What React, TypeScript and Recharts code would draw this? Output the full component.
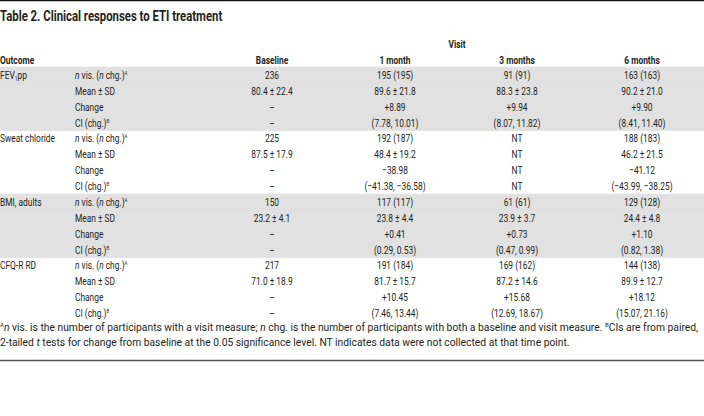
import { Bar, ComposedChart, XAxis, YAxis } from "recharts";

const outcomes = ["FEV1pp", "Sweat chloride", "BMI, adults", "CFQ-R RD"];
const shadedOutcomes = [true, false, true, false];
const measures = ["n vis. (n chg.)", "Mean ± SD", "Change", "CI (chg.)"];
const visitHeaders = ["Baseline", "1 month", "3 months", "6 months"];

const baseline = [
  "236", "80.4 ± 22.4", "–", "–",
  "225", "87.5 ± 17.9", "–", "–",
  "150", "23.2 ± 4.1", "–", "–",
  "217", "71.0 ± 18.9", "–", "–",
];
const month1 = [
  "195 (195)", "89.6 ± 21.8", "+8.89", "(7.78, 10.01)",
  "192 (187)", "48.4 ± 19.2", "−38.98", "(−41.38, −36.58)",
  "117 (117)", "23.8 ± 4.4", "+0.41", "(0.29, 0.53)",
  "191 (184)", "81.7 ± 15.7", "+10.45", "(7.46, 13.44)",
];
const month3 = [
  "91 (91)", "88.3 ± 23.8", "+9.94", "(8.07, 11.82)",
  "NT", "NT", "NT", "NT",
  "61 (61)", "23.9 ± 3.7", "+0.73", "(0.47, 0.99)",
  "169 (162)", "87.2 ± 14.6", "+15.68", "(12.69, 18.67)",
];
const month6 = [
  "163 (163)", "90.2 ± 21.0", "+9.90", "(8.41, 11.40)",
  "188 (183)", "46.2 ± 21.5", "−41.12", "(−43.99, −38.25)",
  "129 (128)", "24.4 ± 4.8", "+1.10", "(0.82, 1.38)",
  "144 (138)", "89.9 ± 12.7", "+18.12", "(15.07, 21.16)",
];

const FONT = "Roboto, sans-serif";
const FOOT_FONT = "Roboto, 'Open Sans', sans-serif";
const INK = "#231f20";
const SHADE = "#e1e1e1";
const SX = 0.73; // squeeze Roboto toward the condensed face of the original
const FS = 11.5;

// column anchor positions
const COL_OUTCOME = 0;
const COL_MEASURE = 75;
const COL_VALUES = [272, 395, 517, 642];

const rows = outcomes.flatMap((o, g) =>
  measures.map((m, k) => {
    const i = g * 4 + k;
    return {
      id: `r${i}`,
      group: g,
      step: k,
      outcome: k === 0 ? o : "",
      measure: m,
      values: [baseline[i], month1[i], month3[i], month6[i]],
      shade: shadedOutcomes[g] ? 1 : 0,
    };
  })
);

function Cell({ x, y, anchor = "start", bold = false, size = FS, sx = SX, children }: any) {
  return (
    <g transform={`translate(${x},${y}) scale(${sx},1)`}>
      <text
        x={0}
        y={0}
        dy="0.35em"
        textAnchor={anchor}
        fontFamily={FONT}
        fontSize={size}
        fontWeight={bold ? 700 : 400}
        fill={INK}
      >
        {children}
      </text>
    </g>
  );
}

function outcomeLabel(o: string) {
  if (o === "FEV1pp") {
    return (
      <>
        FEV
        <tspan dy={2} fontSize={7}>1</tspan>
        <tspan dy={-2}>pp</tspan>
      </>
    );
  }
  return o;
}

function measureLabel(step: number, m: string) {
  if (step === 0) {
    return (
      <>
        <tspan fontStyle="italic">n</tspan> vis. (<tspan fontStyle="italic">n</tspan> chg.)
        <tspan dy={-4} fontSize={6}>A</tspan>
      </>
    );
  }
  if (step === 3) {
    return (
      <>
        {m}
        <tspan dy={-4} fontSize={6}>B</tspan>
      </>
    );
  }
  return m;
}

function RowTick(props: any) {
  const { y, payload } = props;
  const r = rows.find((d) => d.id === payload.value);
  if (!r) return null;
  return (
    <g>
      {r.outcome && <Cell x={COL_OUTCOME} y={y}>{outcomeLabel(r.outcome)}</Cell>}
      <Cell x={COL_MEASURE} y={y}>{measureLabel(r.step, r.measure)}</Cell>
      {r.values.map((v, j) => (
        <Cell key={j} x={COL_VALUES[j]} y={y} anchor="middle">{v}</Cell>
      ))}
    </g>
  );
}

export default function App() {
  return (
    <div style={{ position: "absolute", left: 0, top: 0, width: 704, height: 416, background: "#fff" }}>
      <ComposedChart
        width={704}
        height={416}
        data={rows}
        layout="vertical"
        margin={{ top: 67, right: 0, bottom: 95, left: -1 }}
        barCategoryGap={0}
      >
        <XAxis type="number" domain={[0, 1]} hide />
        <Bar dataKey="shade" fill={SHADE} stroke={SHADE} strokeWidth={0.6} isAnimationActive={false} />
        <YAxis
          type="category"
          dataKey="id"
          width={1}
          axisLine={false}
          tickLine={false}
          interval={0}
          tick={<RowTick />}
        />
      </ComposedChart>
      <svg
        width={704}
        height={416}
        style={{ position: "absolute", left: 0, top: 0, pointerEvents: "none" }}
      >
        <line x1={0} x2={704} y1={0.5} y2={0.5} stroke="#111" strokeWidth={1.5} />
        <Cell x={0} y={16} bold size={14.2} sx={0.8}>Table 2. Clinical responses to ETI treatment</Cell>
        <Cell x={457} y={44} anchor="middle" bold>Visit</Cell>
        <Cell x={COL_OUTCOME} y={60} bold>Outcome</Cell>
        {visitHeaders.map((h, j) => (
          <Cell key={h} x={COL_VALUES[j]} y={60} anchor="middle" bold>{h}</Cell>
        ))}
        <text x={0} y={331} fontFamily={FOOT_FONT} fontSize={10.3} fill={INK}>
          <tspan dy={-4} fontSize={6}>A</tspan>
          <tspan dy={4} fontStyle="italic">n</tspan> vis. is the number of participants with a visit measure;{" "}
          <tspan fontStyle="italic">n</tspan> chg. is the number of participants with both a baseline and visit measure.{" "}
          <tspan dy={-4} fontSize={6}>B</tspan>
          <tspan dy={4}>CIs are from paired,</tspan>
        </text>
        <text x={0} y={346} fontFamily={FOOT_FONT} fontSize={10.3} fill={INK}>
          2-tailed <tspan fontStyle="italic">t</tspan> tests for change from baseline at the 0.05 significance level. NT indicates data were not collected at that time point.
        </text>
        <line x1={0} x2={704} y1={360.5} y2={360.5} stroke="#555" strokeWidth={1.5} />
      </svg>
    </div>
  );
}
